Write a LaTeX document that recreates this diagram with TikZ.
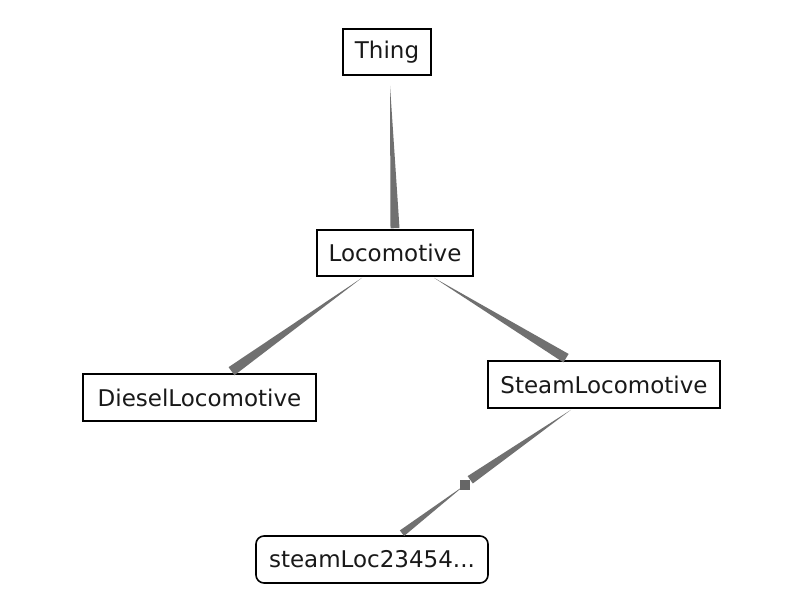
\documentclass[tikz,border=0pt]{standalone}
\usepackage{fontspec}
\setmainfont{DejaVu Sans}
\usetikzlibrary{calc}
\begin{document}
\begin{tikzpicture}[x=1pt,y=-1pt,
  cls/.style={draw=black,line width=1.6pt,fill=white,inner sep=0pt,font=\fontsize{23}{27}\selectfont,text=black!90},
  inst/.style={cls,rounded corners=8pt},
  wedge/.style={fill=black!56,draw=none},
  marker/.style={fill=black!60,draw=none,minimum size=10pt,inner sep=0pt}]
\useasboundingbox[fill=white] (0,0) rectangle (801,602);
\node[cls,minimum width=88pt,minimum height=46pt] (thing) at (387,52) {Thing};
\node[cls,minimum width=156pt,minimum height=46pt] (loco) at (395,253) {Locomotive};
\node[cls,minimum width=233pt,minimum height=47pt] (diesel) at (199.5,397.5) {DieselLocomotive};
\node[cls,minimum width=232pt,minimum height=47pt] (steam) at (604,384.5) {SteamLocomotive};
\node[inst,minimum width=232pt,minimum height=47pt] (sl) at (372,559.5) {steamLoc23454...};
% connector anchor points
\coordinate (a1) at ([shift={(3,10)}]thing.south);
\coordinate (a2) at ([shift={(0,-1)}]loco.north);
\coordinate (b1) at ([shift={(-33,1)}]loco.south);
\coordinate (b2) at ([shift={(32,-2)}]diesel.north);
\coordinate (c1) at ([shift={(39,1)}]loco.south);
\coordinate (c2) at ([shift={(-38,-2)}]steam.north);
\coordinate (d1) at ([shift={(-33,1)}]steam.south);
\node[marker] (mk) at (465,485) {};
\coordinate (d3) at ([shift={(30,-2)}]sl.north);
% wedges
\fill[wedge] (a1) -- ($(a2)!4.5pt!90:(a1)$) -- ($(a2)!4.5pt!-90:(a1)$) -- cycle;
\fill[wedge] (b1) -- ($(b2)!5pt!90:(b1)$) -- ($(b2)!5pt!-90:(b1)$) -- cycle;
\fill[wedge] (c1) -- ($(c2)!5pt!90:(c1)$) -- ($(c2)!5pt!-90:(c1)$) -- cycle;
\fill[wedge] (d1) -- ($(mk.north east)!4.5pt!90:(d1)$) -- ($(mk.north east)!4.5pt!-90:(d1)$) -- cycle;
\fill[wedge] (mk.center) -- ($(d3)!3.5pt!90:(mk.center)$) -- ($(d3)!3.5pt!-90:(mk.center)$) -- cycle;
\node[marker] at (mk) {};
\end{tikzpicture}
\end{document}
